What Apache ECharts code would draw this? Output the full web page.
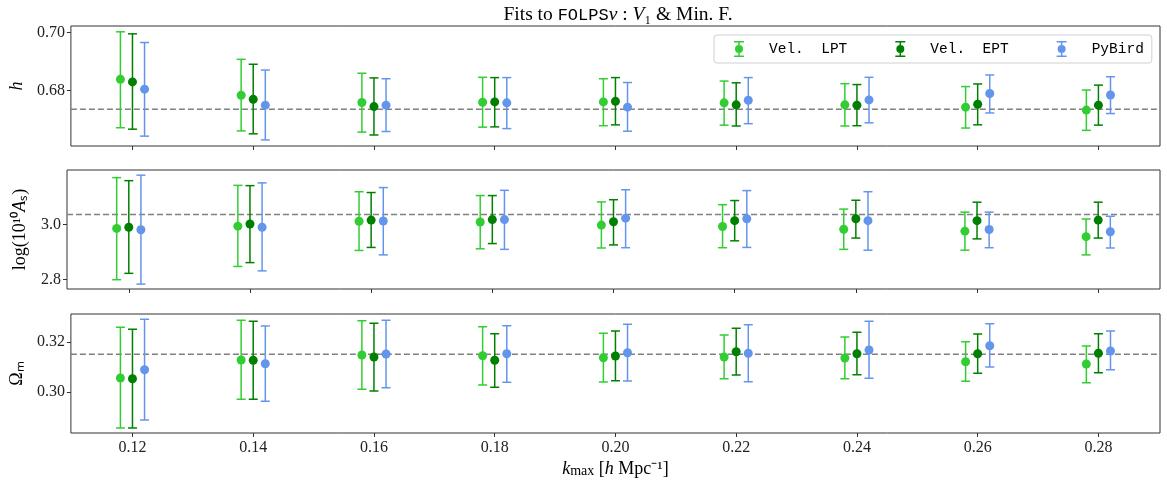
<!DOCTYPE html>
<html>
<head>
<meta charset="utf-8">
<script src="https://cdn.jsdelivr.net/npm/echarts@6/dist/echarts.min.js"></script>
<style>html,body{margin:0;padding:0;background:#fff;}#c{width:1167px;height:486px;}</style>
</head>
<body>
<div id="c"></div>
<script>
// ---- data ----
const kmax = [0.12, 0.14, 0.16, 0.18, 0.20, 0.22, 0.24, 0.26, 0.28];
const seriesNames = ['Vel.  LPT', 'Vel.  EPT', 'PyBird'];

// h
const h_LPT    = [0.6839, 0.6784, 0.6759, 0.6760, 0.6761, 0.6758, 0.6751, 0.6743, 0.6733];
const h_LPT_lo = [0.6672, 0.6661, 0.6657, 0.6674, 0.6679, 0.6681, 0.6678, 0.6671, 0.6663];
const h_LPT_hi = [0.7003, 0.6908, 0.6860, 0.6846, 0.6841, 0.6833, 0.6824, 0.6814, 0.6802];
const h_EPT    = [0.6830, 0.6770, 0.6745, 0.6761, 0.6763, 0.6751, 0.6750, 0.6753, 0.6750];
const h_EPT_lo = [0.6667, 0.6651, 0.6647, 0.6675, 0.6682, 0.6678, 0.6679, 0.6682, 0.6681];
const h_EPT_hi = [0.6996, 0.6891, 0.6844, 0.6845, 0.6845, 0.6827, 0.6821, 0.6823, 0.6819];
const h_PB     = [0.6805, 0.6750, 0.6750, 0.6758, 0.6743, 0.6767, 0.6768, 0.6790, 0.6785];
const h_PB_lo  = [0.6643, 0.6630, 0.6659, 0.6669, 0.6660, 0.6686, 0.6689, 0.6723, 0.6721];
const h_PB_hi  = [0.6966, 0.6871, 0.6841, 0.6845, 0.6828, 0.6845, 0.6846, 0.6854, 0.6848];

// log(10^10 As)
const As_LPT    = [2.986, 2.994, 3.012, 3.009, 2.998, 2.993, 2.983, 2.976, 2.956];
const As_LPT_lo = [2.800, 2.848, 2.906, 2.912, 2.915, 2.916, 2.910, 2.907, 2.890];
const As_LPT_hi = [3.170, 3.142, 3.119, 3.105, 3.082, 3.072, 3.056, 3.045, 3.020];
const As_EPT    = [2.990, 3.002, 3.016, 3.018, 3.010, 3.014, 3.021, 3.014, 3.016];
const As_EPT_lo = [2.823, 2.862, 2.917, 2.931, 2.926, 2.941, 2.951, 2.948, 2.951];
const As_EPT_hi = [3.159, 3.141, 3.116, 3.105, 3.090, 3.087, 3.088, 3.081, 3.081];
const As_PB     = [2.981, 2.990, 3.013, 3.018, 3.023, 3.021, 3.014, 2.982, 2.974];
const As_PB_lo  = [2.784, 2.832, 2.890, 2.910, 2.916, 2.917, 2.907, 2.916, 2.915];
const As_PB_hi  = [3.179, 3.151, 3.134, 3.124, 3.126, 3.123, 3.119, 3.045, 3.030];

// Omega_m
const Om_LPT    = [0.3055, 0.3127, 0.3147, 0.3144, 0.3136, 0.3139, 0.3135, 0.3120, 0.3111];
const Om_LPT_lo = [0.2855, 0.2970, 0.3010, 0.3027, 0.3039, 0.3052, 0.3052, 0.3042, 0.3036];
const Om_LPT_hi = [0.3258, 0.3286, 0.3284, 0.3260, 0.3234, 0.3227, 0.3219, 0.3200, 0.3183];
const Om_EPT    = [0.3052, 0.3126, 0.3139, 0.3126, 0.3143, 0.3160, 0.3152, 0.3152, 0.3154];
const Om_EPT_lo = [0.2855, 0.2970, 0.3003, 0.3018, 0.3044, 0.3067, 0.3068, 0.3074, 0.3076];
const Om_EPT_hi = [0.3250, 0.3282, 0.3274, 0.3232, 0.3243, 0.3254, 0.3238, 0.3231, 0.3232];
const Om_PB     = [0.3088, 0.3112, 0.3151, 0.3152, 0.3156, 0.3154, 0.3167, 0.3184, 0.3163];
const Om_PB_lo  = [0.2887, 0.2962, 0.3016, 0.3038, 0.3043, 0.3040, 0.3054, 0.3099, 0.3088];
const Om_PB_hi  = [0.3290, 0.3263, 0.3286, 0.3264, 0.3270, 0.3268, 0.3282, 0.3272, 0.3243];

// reference (fiducial) values
const fiducial = [0.6736, 3.036, 0.315];

// tick labels
const xTicks = kmax;
const yTicks = [[0.68, 0.70], [2.8, 3.0], [0.30, 0.32]];
const yDecimals = [2, 1, 2];
const yRanges = [[0.6609, 0.7023], [2.7663, 3.1977], [0.2835, 0.3311]];
const xRange = [0.1098, 0.2902];

// ---- chart ----
const colors = ['#32CD32', '#008000', '#6495ED'];
const dodge = [-0.002, 0, 0.002];
const panels = [
  [[h_LPT, h_LPT_lo, h_LPT_hi], [h_EPT, h_EPT_lo, h_EPT_hi], [h_PB, h_PB_lo, h_PB_hi]],
  [[As_LPT, As_LPT_lo, As_LPT_hi], [As_EPT, As_EPT_lo, As_EPT_hi], [As_PB, As_PB_lo, As_PB_hi]],
  [[Om_LPT, Om_LPT_lo, Om_LPT_hi], [Om_EPT, Om_EPT_lo, Om_EPT_hi], [Om_PB, Om_PB_lo, Om_PB_hi]]
];
const gridTops = [26, 170, 314];
const gridHeights = [120, 119, 119];
const yNames = ['{i|h}', '{n|log(10¹⁰}{i|A}{n|ₛ)}', '{n|Ωₘ}'];
const yNameGaps = [44, 38, 44];

const serif = 'Liberation Serif';
const mono = 'Liberation Mono';
const richStyles = {
  n: {fontFamily: serif, fontSize: 18, fontWeight: 'normal', color: '#000', verticalAlign: 'bottom'},
  i: {fontFamily: serif, fontSize: 18, fontStyle: 'italic', fontWeight: 'normal', color: '#000', verticalAlign: 'bottom'},
  s: {fontFamily: serif, fontSize: 14, fontWeight: 'normal', color: '#000', verticalAlign: 'bottom'}
};

function renderErr(params, api) {
  const x = api.value(0), y = api.value(1), lo = api.value(2), hi = api.value(3);
  const pc = api.coord([x, y]);
  const pl = api.coord([x, lo]);
  const ph = api.coord([x, hi]);
  const color = api.visual('color');
  const cw = 4.5;
  const ls = {stroke: color, lineWidth: 1.5};
  return {
    type: 'group',
    children: [
      {type: 'line', shape: {x1: pc[0], y1: pl[1], x2: pc[0], y2: ph[1]}, style: ls},
      {type: 'line', shape: {x1: pc[0] - cw, y1: pl[1], x2: pc[0] + cw, y2: pl[1]}, style: ls},
      {type: 'line', shape: {x1: pc[0] - cw, y1: ph[1], x2: pc[0] + cw, y2: ph[1]}, style: ls},
      {type: 'circle', shape: {cx: pc[0], cy: pc[1], r: 4.5}, style: {fill: color}}
    ]
  };
}

const grids = [], xAxes = [], yAxes = [], series = [];
for (let p = 0; p < 3; p++) {
  grids.push({left: 67, right: 7, top: gridTops[p], height: gridHeights[p], show: true,
    borderColor: '#333', borderWidth: 1, containLabel: false});
  xAxes.push({
    type: 'value', gridIndex: p, min: xRange[0], max: xRange[1],
    axisLine: {show: false},
    splitLine: {show: false},
    axisTick: {show: true, customValues: xTicks, length: 4, lineStyle: {color: '#333', width: 1}},
    axisLabel: {show: p === 2, customValues: xTicks, margin: 7,
      formatter: v => v.toFixed(2), fontFamily: serif, fontSize: 16, color: '#222'},
    name: p === 2 ? '{i|k}{s|max}{n| [}{i|h}{n| Mpc⁻¹]}' : '',
    nameLocation: 'middle', nameGap: 27,
    nameTextStyle: {rich: richStyles}
  });
  yAxes.push({
    type: 'value', gridIndex: p, min: yRanges[p][0], max: yRanges[p][1],
    axisLine: {show: false},
    splitLine: {show: false},
    axisTick: {show: true, customValues: yTicks[p], length: 4, lineStyle: {color: '#333', width: 1}},
    axisLabel: {show: true, customValues: yTicks[p], margin: 6,
      formatter: v => v.toFixed(yDecimals[p]), fontFamily: serif, fontSize: 16, color: '#222'},
    name: yNames[p], nameLocation: 'middle', nameGap: yNameGaps[p],
    nameTextStyle: {rich: richStyles}
  });
  // fiducial dashed reference line spanning the panel
  series.push({
    type: 'line', name: 'fiducial' + p, xAxisIndex: p, yAxisIndex: p,
    data: [[xRange[0], fiducial[p]], [xRange[1], fiducial[p]]],
    symbol: 'none', silent: true, z: 2,
    lineStyle: {color: '#808080', type: [6, 3], width: 1.5}
  });
  for (let s = 0; s < 3; s++) {
    const [c, lo, hi] = panels[p][s];
    series.push({
      type: 'custom', name: seriesNames[s], xAxisIndex: p, yAxisIndex: p,
      itemStyle: {color: colors[s]},
      renderItem: renderErr,
      encode: {x: 0, y: 1},
      data: kmax.map((k, i) => [k + dodge[s], c[i], lo[i], hi[i]]),
      z: 3
    });
  }
}

const icon = 'path://M0,0H10V1.5H0Z M4.25,1.5H5.75V4H4.25Z M4.25,12H5.75V14.5H4.25Z M0,14.5H10V16H0Z M1,8A4,4 0 1 1 9,8A4,4 0 1 1 1,8Z';

const option = {
  animation: false,
  backgroundColor: '#fff',
  title: {
    text: '{n|Fits to }{m|FOLPS}{i|ν}{n| : }{i|V}{n|₁}{n| & Min. F.}',
    left: 613, textAlign: 'center', top: 0,
    textStyle: {fontWeight: 'normal', rich: {
      n: {fontFamily: serif, fontSize: 19.5, fontWeight: 'normal', color: '#000'},
      i: {fontFamily: serif, fontSize: 19.5, fontStyle: 'italic', fontWeight: 'normal', color: '#000'},
      m: {fontFamily: mono, fontSize: 17, fontWeight: 'normal', color: '#000'}
    }}
  },
  legend: {
    left: 714, top: 35,
    padding: [6, 8, 6, 20],
    itemWidth: 10, itemHeight: 17, itemGap: 48,
    backgroundColor: '#fff', borderColor: '#d0d0d0', borderWidth: 1, borderRadius: 3,
    textStyle: {fontFamily: mono, fontSize: 14.5, color: '#000', padding: [0, 0, 0, 20]},
    data: seriesNames.map(n => ({name: n, icon: icon}))
  },
  grid: grids,
  xAxis: xAxes,
  yAxis: yAxes,
  series: series
};

const chart = echarts.init(document.getElementById('c'), null, {renderer: 'canvas'});
chart.setOption(option);
</script>
</body>
</html>
